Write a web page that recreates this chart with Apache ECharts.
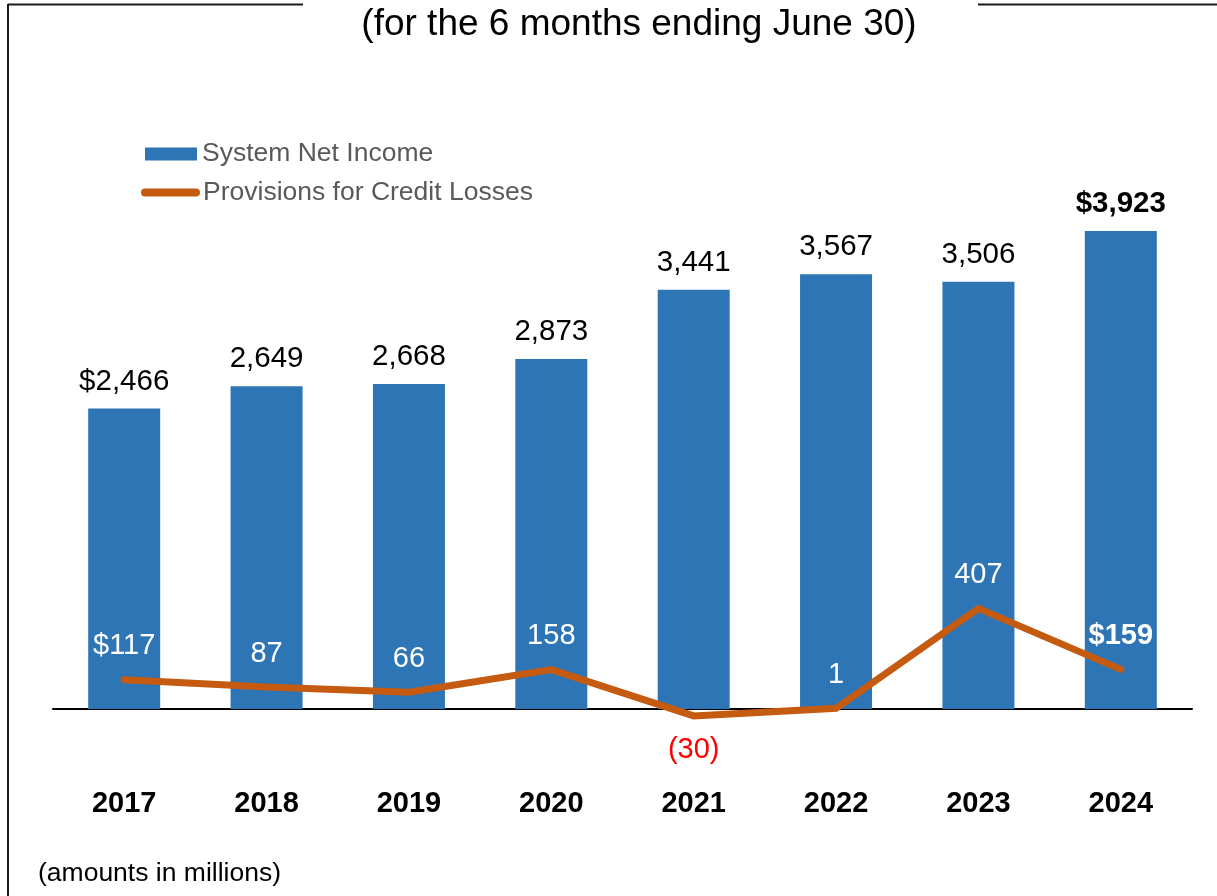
<!DOCTYPE html>
<html>
<head>
<meta charset="utf-8">
<script src="https://cdn.jsdelivr.net/npm/echarts@6/dist/echarts.min.js"></script>
<style>
html,body{margin:0;padding:0;background:#fff;}
#chart{width:1217px;height:896px;}
</style>
</head>
<body>
<div id="chart"></div>
<script>
const categories = ['2017','2018','2019','2020','2021','2022','2023','2024'];
const netIncome = [2466,2649,2668,2873,3441,3567,3506,3923];
const provisions = [117,87,66,158,-30,1,407,159];
const titleText = '(for the 6 months ending June 30)';
const noteText = '(amounts in millions)';
const seriesNames = ['System Net Income','Provisions for Credit Losses'];

const FONT = '"Liberation Sans", Arial, sans-serif';
const BAR = '#2E75B6';
const LINE = '#C55A11';

function fmt(v, i, n) {
  const abs = Math.abs(v).toLocaleString('en-US');
  const pre = (i === 0 || i === n - 1) ? '$' : '';
  return v < 0 ? '(' + pre + abs + ')' : pre + abs;
}

const barData = netIncome.map((v, i) => ({
  value: v,
  label: { fontWeight: i === netIncome.length - 1 ? 'bold' : 'normal' }
}));
const lineData = provisions.map((v, i) => ({
  value: v,
  label: {
    position: v < 0 ? 'bottom' : 'top',
    distance: v < 0 ? 19 : 18,
    color: v < 0 ? '#FF0000' : '#FFFFFF',
    fontWeight: i === provisions.length - 1 ? 'bold' : 'normal'
  }
}));

const chart = echarts.init(document.getElementById('chart'), null, {renderer: 'canvas'});
chart.setOption({
  backgroundColor: '#fff',
  animation: false,
  textStyle: { fontFamily: FONT },
  title: {
    text: titleText,
    left: 634, top: 1, textAlign: 'center',
    textStyle: { fontFamily: FONT, fontSize: 37, fontWeight: 'normal', color: '#000' }
  },
  legend: [
    {
      data: [{ name: seriesNames[0], icon: 'rect' }],
      left: 145, top: 140.5, padding: 0,
      itemWidth: 52, itemHeight: 13, itemGap: 0,
      textStyle: { fontFamily: FONT, fontSize: 26.5, color: '#595959' },
      selectedMode: false
    },
    {
      data: [{ name: seriesNames[1], icon: 'path://M4,0 H55 A4,4 0 0 1 55,8 H4 A4,4 0 0 1 4,0 Z' }],
      left: 141, top: 179, padding: 0,
      itemWidth: 59, itemHeight: 8, itemGap: 0,
      textStyle: { fontFamily: FONT, fontSize: 26.5, color: '#595959', padding: [0,0,0,-2] },
      selectedMode: false
    }
  ],
  grid: { left: 53, right: 25, top: 99.75, bottom: 138.3, containLabel: false },
  xAxis: {
    type: 'category',
    data: categories,
    axisLine: { onZero: true, lineStyle: { color: '#000', width: 2 } },
    axisTick: { show: false },
    axisLabel: { margin: 32, fontFamily: FONT, fontSize: 29, fontWeight: 'bold', color: '#000' },
    splitLine: { show: false }
  },
  yAxis: [
    { type: 'value', min: -400, max: 5000, show: false, splitLine: { show: false } },
    { type: 'value', min: -200, max: 2475, show: false, splitLine: { show: false } }
  ],
  series: [
    {
      name: seriesNames[0],
      type: 'bar',
      yAxisIndex: 0,
      data: barData,
      barWidth: 72,
      itemStyle: { color: BAR },
      label: {
        show: true, position: 'top', distance: 12,
        fontFamily: FONT, fontSize: 29.5, color: '#000',
        formatter: p => fmt(p.value, p.dataIndex, netIncome.length)
      },
      z: 2
    },
    {
      name: seriesNames[1],
      type: 'line',
      yAxisIndex: 1,
      data: lineData,
      symbol: 'circle', symbolSize: 2, showSymbol: true,
      itemStyle: { color: LINE },
      lineStyle: { color: LINE, width: 7, cap: 'round', join: 'miter' },
      label: {
        show: true, fontFamily: FONT, fontSize: 29,
        formatter: p => fmt(p.value, p.dataIndex, provisions.length)
      },
      z: 3
    }
  ],
  graphic: [
    { type: 'line', shape: { x1: 8, y1: 4.5, x2: 303, y2: 4.5 }, style: { stroke: '#1a1a1a', lineWidth: 2 } },
    { type: 'line', shape: { x1: 8, y1: 4, x2: 8, y2: 896 }, style: { stroke: '#1a1a1a', lineWidth: 2 } },
    { type: 'line', shape: { x1: 978, y1: 4.5, x2: 1217, y2: 4.5 }, style: { stroke: '#1a1a1a', lineWidth: 2 } },
    { type: 'text', left: 38, top: 860, style: { text: noteText, font: '26.5px "Liberation Sans", Arial, sans-serif', fill: '#000' } }
  ]
});
</script>
</body>
</html>
